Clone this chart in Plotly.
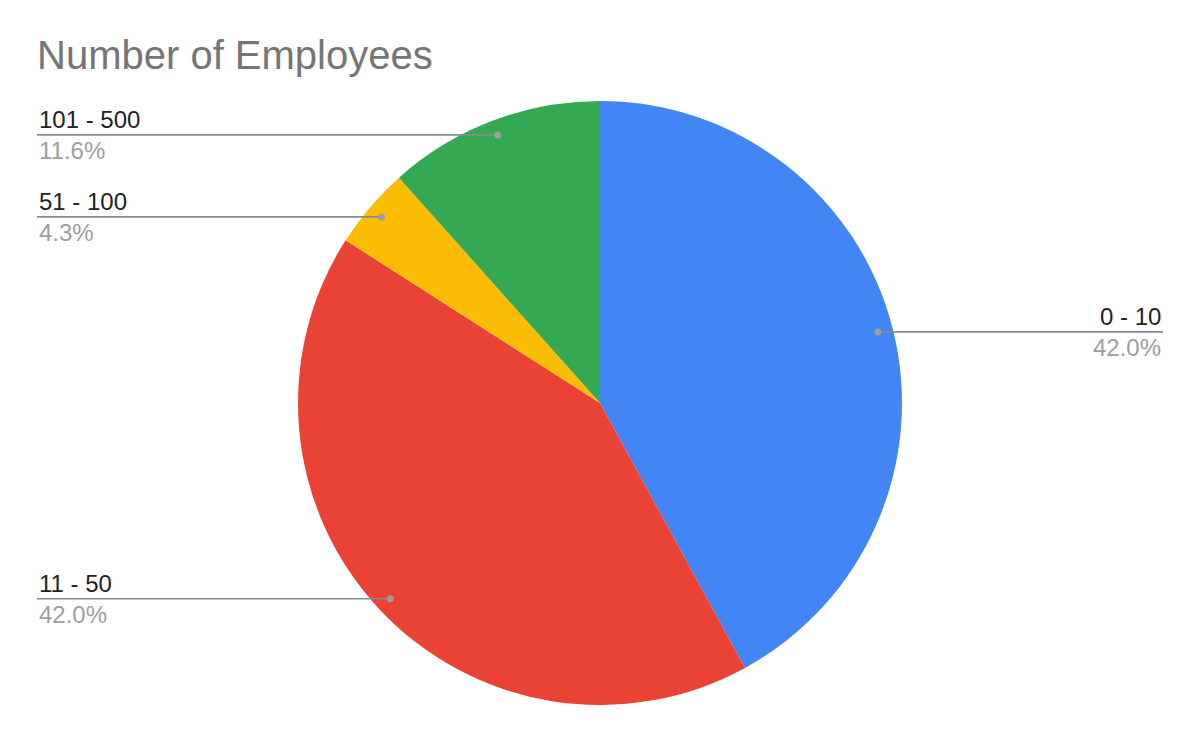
import math
import plotly.graph_objects as go

# ---- data ----
categories = ["0 - 10", "11 - 50", "51 - 100", "101 - 500"]
counts = [29, 29, 3, 8]
colors = ["#4285F4", "#EA4335", "#FBBC04", "#34A853"]
title_text = "Number of Employees"

# ---- layout geometry (page pixels) ----
OFF = 8  # default body margin of the html page
W, H = 1200 - OFF, 742 - OFF
cx, cy, R = 600, 403, 302
dot_frac = 0.95
left_x, right_x = 37, 1163

def px(x):
    return (x - OFF) / W

def py(y):
    return 1 - (y - OFF) / H

fig = go.Figure(go.Pie(
    labels=categories,
    values=counts,
    marker=dict(colors=colors, line=dict(width=0)),
    sort=False,
    direction="clockwise",
    rotation=0,
    textinfo="none",
    hoverinfo="label+percent",
    showlegend=False,
    domain=dict(x=[px(cx - R), px(cx + R)], y=[py(cy + R), py(cy - R)]),
))

total = sum(counts)
shapes = []
annotations = []
cum = 0
for cat, v in zip(categories, counts):
    mid = (cum + v / 2) / total * 360
    cum += v
    ang = math.radians(mid)
    dx = cx + dot_frac * R * math.sin(ang)
    dy = cy - dot_frac * R * math.cos(ang)
    pct = f"{v / total * 100:.1f}%"
    if math.sin(ang) >= 0:
        x0, x1 = dx, right_x
        tx, anchor = right_x, "right"
    else:
        x0, x1 = left_x, dx
        tx, anchor = left_x, "left"
    shapes.append(dict(type="line", xref="paper", yref="paper",
                       x0=px(x0), x1=px(x1), y0=py(dy), y1=py(dy),
                       line=dict(color="#8a8a8a", width=1.6)))
    r = 3.5
    shapes.append(dict(type="circle", xref="paper", yref="paper",
                       x0=px(dx - r), x1=px(dx + r), y0=py(dy + r), y1=py(dy - r),
                       fillcolor="#9e9e9e", line=dict(width=0)))
    annotations.append(dict(text=cat, xref="paper", yref="paper",
                            x=px(tx), y=py(dy), xanchor=anchor, yanchor="bottom",
                            showarrow=False,
                            font=dict(family="Liberation Sans, Arial", size=24, color="#222222")))
    annotations.append(dict(text=pct, xref="paper", yref="paper",
                            x=px(tx), y=py(dy), xanchor=anchor, yanchor="top",
                            showarrow=False,
                            font=dict(family="Liberation Sans, Arial", size=24, color="#9e9e9e")))

fig.update_layout(
    width=W, height=H,
    margin=dict(l=0, r=0, t=0, b=0),
    paper_bgcolor="white",
    plot_bgcolor="white",
    title=dict(text=title_text, x=px(left_x), xref="container", xanchor="left",
               y=py(55), yref="container", yanchor="middle",
               font=dict(family="Liberation Sans, Arial", size=40, color="#757575")),
    shapes=shapes,
    annotations=annotations,
)

fig.write_html("out.html")
